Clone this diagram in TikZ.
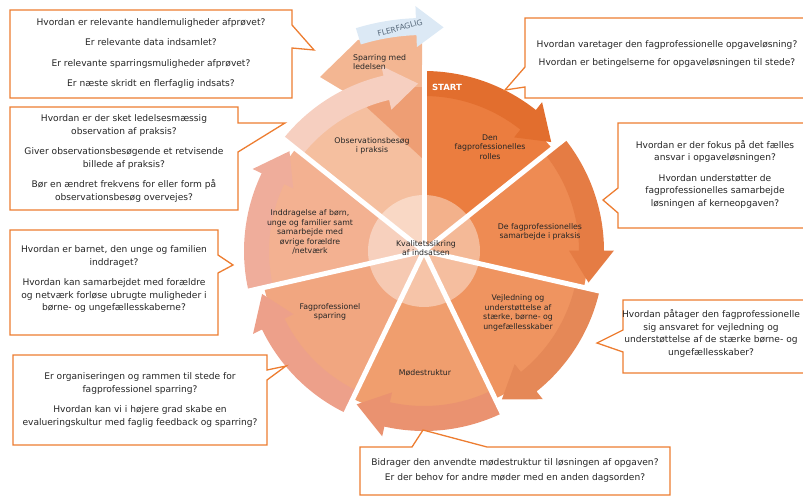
\documentclass[tikz,border=0pt]{standalone}
\usepackage{fontspec}
\setmainfont{DejaVu Sans}
\usetikzlibrary{calc}

\definecolor{segA}{HTML}{EB7D3F}
\definecolor{segB}{HTML}{EE8B53}
\definecolor{segC}{HTML}{EF9460}
\definecolor{segD}{HTML}{F09E6E}
\definecolor{segE}{HTML}{F1A680}
\definecolor{segF}{HTML}{F3B191}
\definecolor{segG}{HTML}{F5BF9F}
\definecolor{bandA}{HTML}{E26E2E}
\definecolor{bandB}{HTML}{E57C44}
\definecolor{bandC}{HTML}{E58857}
\definecolor{bandD}{HTML}{EA9270}
\definecolor{bandE}{HTML}{EDA08A}
\definecolor{bandF}{HTML}{EFAD9B}
\definecolor{bandG}{HTML}{F6CFC0}
\definecolor{sparlight}{HTML}{F3B692}
\definecolor{spardark}{HTML}{EE9E74}
\definecolor{flerblue}{HTML}{DCE9F5}
\definecolor{flertext}{HTML}{586A7C}
\definecolor{boxline}{HTML}{ED7D31}
\definecolor{textgray}{HTML}{262626}

\newcommand{\ringarrow}[7]{%
  \pgfmathsetmacro{\arrIn}{#4-#7}%
  \pgfmathsetmacro{\arrOut}{#5+#7}%
  \pgfmathsetmacro{\arrMid}{(#4+#5)/2}%
  \fill[#6] ($(C)+(#1:#4)$) arc[start angle=#1, end angle=#2, radius=#4]
    -- ($(C)+(#2:\arrIn)$) -- ($(C)+(#3:\arrMid)$) -- ($(C)+(#2:\arrOut)$)
    -- ($(C)+(#2:#5)$) arc[start angle=#2, end angle=#1, radius=#5] -- cycle;}

\begin{document}
\begin{tikzpicture}[x=1pt,y=-1pt,
    callout/.style={draw=boxline,fill=white,line width=1.3pt,line join=miter},
    qtext/.style={font=\fontsize{9.1}{12.5}\selectfont,align=center,text=textgray,inner sep=0pt},
    seglabel/.style={font=\fontsize{7.8}{9.6}\selectfont,align=center,text=textgray,inner sep=0pt},
    spoke/.style={draw=white,line width=5pt}]
  \useasboundingbox (0,0) rectangle (803,497);
  \clip (0,0) rectangle (803,497);
  \coordinate (C) at (424,251);

  \foreach \i/\body in {0/segA,1/segB,2/segC,3/segD,4/segE,5/segF,6/segG}{
    \pgfmathsetmacro{\segS}{-90+\i*360/7}
    \pgfmathsetmacro{\segE}{\segS+360/7}
    \fill[\body] (C) -- ($(C)+(\segS:164)$) arc[start angle=\segS, end angle=\segE, radius=164] -- cycle;
  }

  \fill[sparlight] (422,30) -- (358,40) -- (320,77) -- (360,101) -- (422,158) -- cycle;
  \begin{scope}
    \clip (C) -- ($(C)+(218.57:164)$) arc[start angle=218.57, end angle=270, radius=164] -- cycle;
    \fill[spardark] (422,30) -- (358,40) -- (320,77) -- (360,101) -- (422,158) -- cycle;
  \end{scope}

  \foreach \i/\band in {0/bandA,1/bandB,2/bandC,3/bandD,4/bandE,5/bandF,6/bandG}{
    \pgfmathsetmacro{\segS}{-90+\i*360/7}
    \pgfmathsetmacro{\segH}{\segS+360/7-13}
    \pgfmathsetmacro{\segT}{\segS+360/7-2}
    \ringarrow{\segS}{\segH}{\segT}{155}{180}{\band}{10}
  }
  \ringarrow{-107}{-92}{-85}{216}{233}{flerblue}{12}

  \foreach \i in {0,...,6}{
    \pgfmathsetmacro{\segS}{-90+\i*360/7}
    \draw[spoke] (C) -- ($(C)+(\segS:186)$);
  }
  \fill[white,fill opacity=0.4] (C) circle[radius=56];

  \node[seglabel] (quality) at (426,248) {Kvalitetssikring\\af indsatsen};
  \node[seglabel] (role) at (490,147) {Den\\fagprofessionelles\\rolles};
  \node[seglabel] (teamwork) at (540,232) {De fagprofessionelles\\samarbejde i praksis};
  \node[seglabel] (guidance) at (518,313) {Vejledning og\\understøttelse af\\stærke, børne- og\\ungefællesskaber};
  \node[seglabel] (meetings) at (425,373) {Mødestruktur};
  \node[seglabel] (sparring) at (330,312) {Fagprofessionel\\sparring};
  \node[seglabel] (involve) at (310,232) {Inddragelse af børn,\\unge og familier samt\\samarbejde med\\øvrige forældre\\/netværk};
  \node[seglabel] (observe) at (372,146) {Observationsbesøg\\i praksis};
  \node[seglabel,align=left,anchor=west] (leader) at (353,62) {Sparring med\\ledelsen};
  \node[seglabel,text=white,font=\fontsize{8.5}{10}\selectfont\bfseries] (start) at (447,87) {START};
  \node[seglabel,text=flertext,rotate=15,font=\fontsize{7.7}{9}\selectfont] (flerfaglig) at (400,28) {FLERFAGLIG};

  \draw[callout] (10,10) -- (292,10) -- (292,25) -- (314,50) -- (292,48) -- (292,98) -- (10,98) -- cycle;
  \node[qtext] (qa) at (151,53.5) {Hvordan er relevante handlemuligheder afprøvet?\\[8pt]
    Er relevante data indsamlet?\\[8pt]Er relevante sparringsmuligheder afprøvet?\\[8pt]
    Er næste skridt en flerfaglig indsats?};

  \draw[callout] (10,107) -- (238,107) -- (238,123) -- (285,123) -- (238,152) -- (238,210) -- (10,210) -- cycle;
  \node[qtext] (qb) at (124,158.5) {Hvordan er der sket ledelsesmæssig\\observation af praksis?\\[8pt]
    Giver observationsbesøgende et retvisende\\billede af praksis?\\[8pt]
    Bør en ændret frekvens for eller form på\\observationsbesøg overvejes?};

  \draw[callout] (10,230) -- (218,230) -- (218,255) -- (233,265) -- (218,273) -- (218,335) -- (10,335) -- cycle;
  \node[qtext] (qc) at (114,279) {Hvordan er barnet, den unge og familien\\inddraget?\\[8pt]
    Hvordan kan samarbejdet med forældre\\og netværk forløse ubrugte muligheder i\\børne- og ungefællesskaberne?};

  \draw[callout] (13,355) -- (267,355) -- (267,370) -- (286,366) -- (267,380) -- (267,445) -- (13,445) -- cycle;
  \node[qtext] (qd) at (140,400) {Er organiseringen og rammen til stede for\\fagprofessionel sparring?\\[8pt]
    Hvordan kan vi i højere grad skabe en\\evalueringskultur med faglig feedback og sparring?};

  \draw[callout] (360,447) -- (412,447) -- (423,430) -- (487,447) -- (670,447) -- (670,495) -- (360,495) -- cycle;
  \node[qtext] (qe) at (515,470.5) {Bidrager den anvendte mødestruktur til løsningen af opgaven?\\[2pt]
    Er der behov for andre møder med en anden dagsorden?};

  \draw[callout] (525,18) -- (812,18) -- (812,98) -- (525,98) -- (525,87) -- (505,90) -- (525,67) -- cycle;
  \node[qtext] (qf) at (667,54) {Hvordan varetager den fagprofessionelle opgaveløsning?\\[5.5pt]
    Hvordan er betingelserne for opgaveløsningen til stede?};

  \draw[callout] (618,123) -- (812,123) -- (812,228) -- (618,228) -- (618,213) -- (603,200) -- (618,188) -- cycle;
  \node[qtext] (qg) at (715,174) {Hvordan er der fokus på det fælles\\ansvar i opgaveløsningen?\\[8pt]
    Hvordan understøtter de\\fagprofessionelles samarbejde\\løsningen af kerneopgaven?};

  \draw[callout] (623,300) -- (812,300) -- (812,373) -- (623,373) -- (623,352) -- (597,343) -- (623,330) -- cycle;
  \node[qtext] (qh) at (711,333.5) {Hvordan påtager den fagprofessionelle\\sig ansvaret for vejledning og\\understøttelse af de stærke børne- og\\ungefællesskaber?};
\end{tikzpicture}
\end{document}
